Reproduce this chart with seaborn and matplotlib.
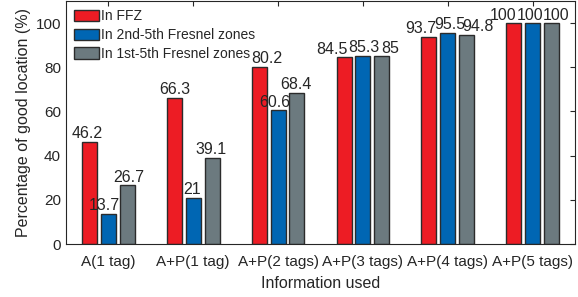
import matplotlib
matplotlib.use('Agg')
import matplotlib.pyplot as plt
import seaborn as sns
import pandas as pd

# chart data
categories = ['A(1 tag)', 'A+P(1 tag)', 'A+P(2 tags)', 'A+P(3 tags)', 'A+P(4 tags)', 'A+P(5 tags)']
series_names = ['In FFZ', 'In 2nd-5th Fresnel zones', 'In 1st-5th Fresnel zones']
ffz = [46.2, 66.3, 80.2, 84.5, 93.7, 100]
fresnel_2_5 = [13.7, 21, 60.6, 85.3, 95.5, 100]
fresnel_1_5 = [26.7, 39.1, 68.4, 85, 94.8, 100]
colors = ['#ED1C24', '#0066B3', '#6C7A7F']

# horizontal nudges (points) of the value labels, as placed in the original
label_nudge = [
    [-1.8, 0, 5.4, -8.6, -5.8, -7.9],
    [-2.9, -0.7, -2.2, 0.7, 1.4, -2.2],
    [1.1, -0.7, -0.7, 5.8, 7.9, 2.9],
]

sns.set_style('white')
plt.rcParams['font.family'] = ['Liberation Sans', 'DejaVu Sans']
plt.rcParams['text.color'] = '#262626'
plt.rcParams['axes.labelcolor'] = '#262626'
plt.rcParams['xtick.color'] = '#262626'
plt.rcParams['ytick.color'] = '#262626'

rows = []
for name, vals in zip(series_names, [ffz, fresnel_2_5, fresnel_1_5]):
    for cat, v in zip(categories, vals):
        rows.append({'Information used': cat, 'value': v, 'series': name})
df = pd.DataFrame(rows)

fig = plt.figure(figsize=(5.78, 2.97), dpi=100)
ax = fig.add_axes([0.114, 0.178, 0.881, 0.819])

sns.barplot(data=df, x='Information used', y='value', hue='series',
            order=categories, hue_order=series_names, palette=colors,
            width=0.667, gap=0.21, edgecolor='#2b2b2b', linewidth=1.0,
            saturation=1, errorbar=None, ax=ax)

# value labels above each bar
for cont, nudges in zip(ax.containers, label_nudge):
    for bar, dx in zip(cont, nudges):
        h = bar.get_height()
        ax.annotate(f'{h:g}', (bar.get_x() + bar.get_width() / 2, h),
                    xytext=(dx, 2.5), textcoords='offset points',
                    ha='center', va='baseline', fontsize=11.5,
                    color='#262626')

ax.set_ylim(0, 110)
ax.set_xlim(-0.5, 5.5)
ax.set_yticks([0, 20, 40, 60, 80, 100])
ax.set_ylabel('Percentage of good location (%)', fontsize=11.5, labelpad=3)
ax.set_xlabel('Information used', fontsize=11.5, labelpad=5)
ax.tick_params(direction='in', top=True, right=True, length=3.5,
               labelsize=11, width=0.8)
ax.tick_params(axis='x', pad=8)
for sp in ax.spines.values():
    sp.set_color('#262626')
    sp.set_linewidth(0.8)

ax.legend(loc='upper left', frameon=False, fontsize=10, handlelength=1.75,
          handleheight=0.9, handletextpad=0.15, labelspacing=0.35,
          borderaxespad=0.3, borderpad=0.3)

fig.savefig('out.png', dpi=100)
